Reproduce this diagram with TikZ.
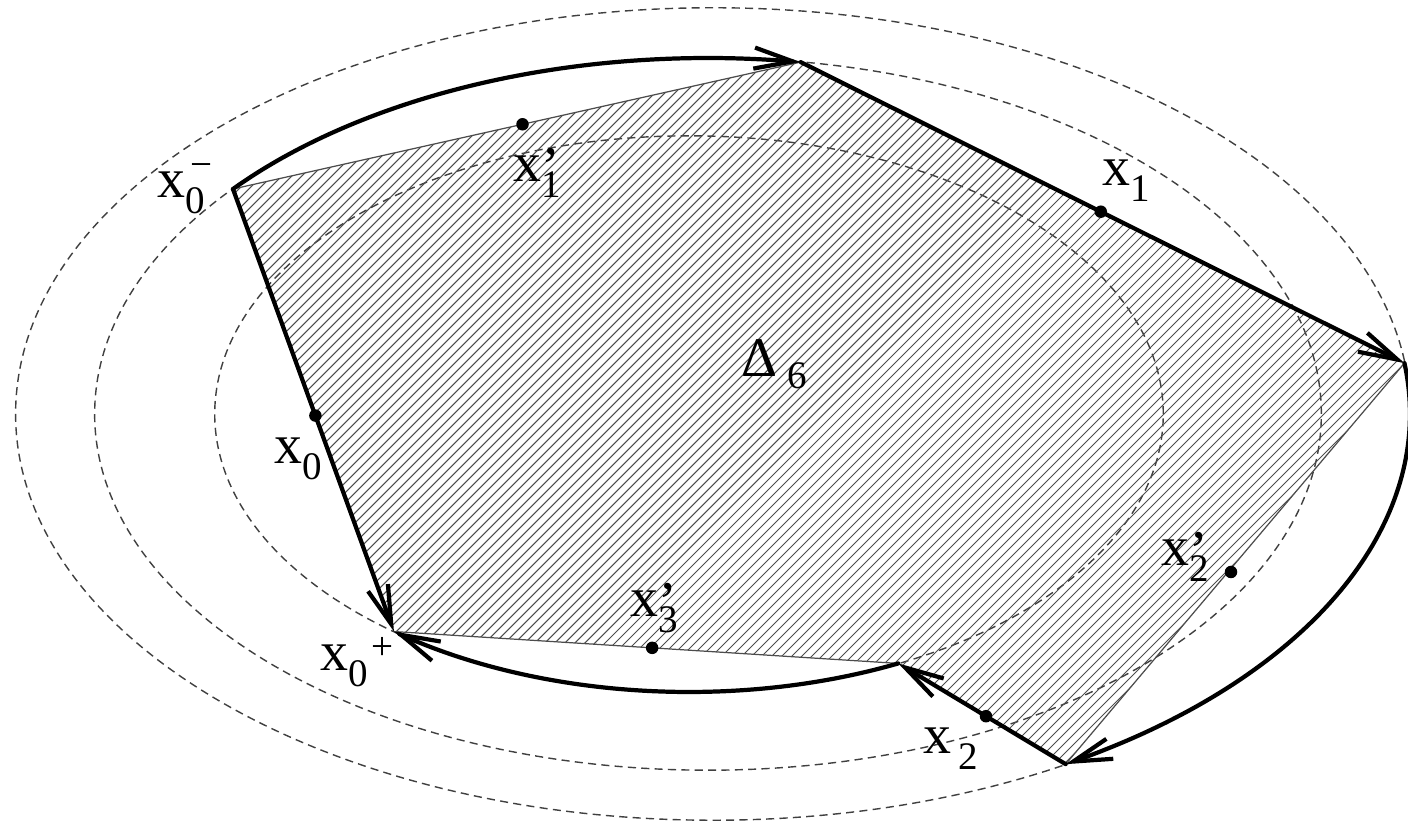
\documentclass[tikz,border=0pt]{standalone}
\usepackage{fontspec}
\setmainfont{LiberationSerif}[Extension=.ttf, UprightFont=*-Regular, BoldFont=*-Bold, ItalicFont=*-Italic]
\usetikzlibrary{arrows.meta,calc}
\newcommand\basef{\rmfamily\fontsize{15.9pt}{19pt}\selectfont}
\newcommand\subf{\fontsize{11.1pt}{13pt}\selectfont}
\newcommand\lsub[1]{\raisebox{-0.27em}{\subf #1}}
\tikzset{
 ell/.style={draw=black!75, line width=0.4pt, dash pattern=on 2.3pt off 1.5pt},
 thickln/.style={line width=1.2pt, line cap=round, line join=round},
 thinedge/.style={line width=0.35pt, draw=black!70},
 hatchln/.style={line width=0.3pt, draw=black!70},
 arr/.style={-{Straight Barb[length=11pt,width=6pt]}},
 dot/.style={circle, fill=black, inner sep=0pt, minimum size=0.125cm},
 lab/.style={inner sep=0pt, anchor=base west, font=\basef},
}
\begin{document}
\begin{tikzpicture}[x=0.01cm,y=-0.01cm]
\useasboundingbox (0,0) rectangle (1408,828);
% dashed ellipses
\draw[ell] (713,414) ellipse [x radius=6.97cm, y radius=4.06cm];
\draw[ell] (708,414) ellipse [x radius=6.13cm, y radius=3.56cm];
\draw[ell] (689,414) ellipse [x radius=4.74cm, y radius=2.78cm];
% vertices
\coordinate (A) at ({708+613*cos(-140.8)},{414+356*sin(-140.8)});
\coordinate (B) at ({708+613*cos(-81.3)},{414+356*sin(-81.3)});
\coordinate (C) at ({713+697*cos(-7.2)},{414+406*sin(-7.2)});
\coordinate (D) at ({713+697*cos(59.6)},{414+406*sin(59.6)});
\coordinate (E) at ({689+474*cos(63.8)},{414+278*sin(63.8)});
\coordinate (F) at ({689+474*cos(128.5)},{414+278*sin(128.5)});
% hatching
\begin{scope}
\clip (A) -- (B) -- (C) -- (D) -- (E) -- (F) -- cycle;
\foreach \c in {-830,-820,...,1410} \draw[hatchln] (\c,828) -- ++(828,-828);
\end{scope}
% thin edges
\draw[thinedge] (A) -- (B);
\draw[thinedge] (C) -- (D);
\draw[thinedge] (E) -- (F);
% thick edges
\draw[thickln,arr] (A) -- (F);
\draw[thickln,arr] (B) -- (C);
\draw[thickln,arr] (D) -- (E);
% arcs
\draw[thickln,arr] plot[domain=-140.8:-81.3,samples=80,variable=\t] ({708+613*cos(\t)},{414+356*sin(\t)});
\draw[thickln,arr] plot[domain=-7.2:59.6,samples=80,variable=\t] ({713+697*cos(\t)},{414+406*sin(\t)});
\draw[thickln,arr] plot[domain=63.8:128.5,samples=80,variable=\t] ({689+474*cos(\t)},{414+278*sin(\t)});
% points
\node[dot] (p1) at ($(A)!0.51!(B)$) {};
\node[dot] (p2) at ($(B)!0.497!(C)$) {};
\node[dot] (p3) at ($(A)!0.512!(F)$) {};
\node[dot] (p4) at ($(F)!0.512!(E)$) {};
\node[dot] (p5) at ($(D)!0.476!(E)$) {};
\node[dot] (p6) at (1231,572) {};
% labels
\node[lab] (lA) at (157,198) {x\rlap{\kern0.09em\raisebox{0.36em}{\subf −}}\lsub{0}};
\node[lab] (lB) at (513,182) {x\rlap{\raisebox{-0.07em}{’}}\lsub{1}};
\node[lab] (lC) at (1102,186) {x\lsub{1}};
\node[lab] (lD) at (274,464) {x\lsub{0}};
\node[lab] (lE) at (320,671) {x\lsub{0}\kern1pt\raisebox{0.2em}{\subf +}};
\node[lab] (lF) at (630,617) {x\rlap{\raisebox{-0.07em}{’}}\lsub{3}};
\node[lab] (lG) at (923,754) {x\kern2pt\lsub{2}};
\node[lab] (lH) at (1161,566) {x\rlap{\raisebox{-0.07em}{’}}\lsub{2}};
\node[lab] (lDelta) at (741,377) {Δ\kern0.18em\raisebox{-0.2em}{\subf 6}};
\end{tikzpicture}
\end{document}
